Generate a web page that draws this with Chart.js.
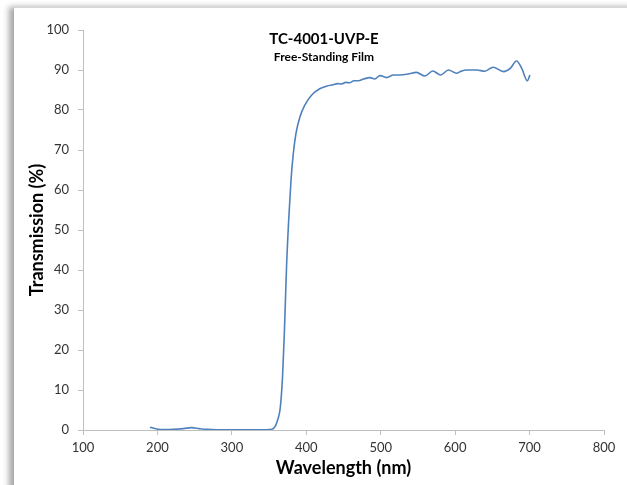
<!DOCTYPE html>
<html>
<head>
<meta charset="utf-8">
<title>TC-4001-UVP-E</title>
<script src="https://cdn.jsdelivr.net/npm/chart.js@4/dist/chart.umd.min.js"></script>
<style>
    html, body { margin: 0; padding: 0; background: #fff; overflow: hidden; }
    #marco {
        position: absolute; left: 14px; top: 7px; width: 700px; height: 600px;
        background: #fff; border-top: 1px solid #d6d6d6;
        box-shadow: -5px 0 6px rgba(0, 0, 0, 0.35);
    }
    #contenedor { position: absolute; left: 0; top: 0; width: 627px; height: 485px; }
</style>
</head>
<body>
<div id="marco"></div>
<div id="contenedor"><canvas id="grafico" width="627" height="485"></canvas></div>
<script>
// --- DATOS ---
const longitudOnda = [190, 199, 210, 221, 235, 246, 256, 266, 280, 300, 320, 340, 351, 356, 359, 362, 365, 368,
    370.5, 373.5, 376.5, 379.5, 382.5, 386, 391.5, 398, 407, 418, 428, 436, 442, 447, 453, 458, 464, 470, 477, 485.5,
    492, 499, 508, 517, 526, 537, 548, 559.5, 570, 580.5, 591, 602, 608, 615.5, 629, 640, 651, 665, 674,
    682.5, 689.5, 697, 700.5];
const transmision = [0.7, 0.25, 0.1, 0.15, 0.35, 0.6, 0.35, 0.15, 0.05, 0.05, 0.05, 0.05, 0.1, 0.4, 1.2, 2.8, 5.5, 13,
    24, 41, 53, 62.5, 69, 74, 78.3, 81.2, 83.7, 85.3, 86, 86.3, 86.6, 86.5, 86.9, 86.8, 87.3, 87.3, 87.75, 88.1,
    87.75, 88.6, 88.1, 88.75, 88.75, 89, 89.4, 88.5, 89.75, 88.75, 90, 89.2, 89.7, 90, 90, 89.7, 90.7, 89.6, 90.4,
    92.25, 90.4, 87.3, 88.75];
const ticksX = [100, 200, 300, 400, 500, 600, 700, 800];
const ticksY = [0, 10, 20, 30, 40, 50, 60, 70, 80, 90, 100];

const titulo = 'TC-4001-UVP-E';
const subtitulo = 'Free-Standing Film';

const colorEje = '#bfbfbf';
const colorTexto = '#333333';
const fuente = 'Lato, "Open Sans", sans-serif';

// --- TITULO DENTRO DEL AREA DEL GRAFICO ---
const tituloInterno = {
    id: 'tituloInterno',
    afterDraw(chart) {
        const ctx = chart.ctx;
        const area = chart.chartArea;
        const cx = area.left + 241;
        ctx.save();
        ctx.fillStyle = '#000';
        ctx.textAlign = 'center';
        ctx.textBaseline = 'middle';
        ctx.font = 'bold 15px ' + fuente;
        ctx.fillText(titulo, cx, 39);
        ctx.font = 'bold 12px ' + fuente;
        ctx.fillText(subtitulo, cx, 57);
        ctx.restore();
    }
};

const puntos = longitudOnda.map((x, i) => ({ x: x, y: transmision[i] }));

new Chart(document.getElementById('grafico'), {
    type: 'line',
    data: {
        datasets: [{
            data: puntos,
            borderColor: '#4f81bd',
            borderWidth: 1.6,
            pointRadius: 0,
            fill: false,
            cubicInterpolationMode: 'monotone'
        }]
    },
    options: {
        responsive: false,
        animation: false,
        layout: { padding: { top: 30, right: 23, left: 0, bottom: 0 } },
        plugins: { legend: { display: false }, tooltip: { enabled: false } },
        scales: {
            x: {
                type: 'linear',
                min: 100, max: 800,
                afterBuildTicks: (scale) => { scale.ticks = ticksX.map(v => ({ value: v })); },
                afterFit: (scale) => { scale.height = 55; },
                border: { color: colorEje },
                grid: { drawOnChartArea: false, drawTicks: true, tickLength: 5, color: colorEje },
                ticks: { color: colorTexto, font: { family: fuente, size: 13 }, padding: 5, maxRotation: 0 },
                title: { display: true, text: 'Wavelength (nm)', color: '#000',
                    font: { family: fuente, size: 18, weight: 'bold' }, padding: { top: 0, bottom: 6 } }
            },
            y: {
                min: 0, max: 100,
                afterBuildTicks: (scale) => { scale.ticks = ticksY.map(v => ({ value: v })); },
                afterFit: (scale) => { scale.width = 83; },
                border: { color: colorEje },
                grid: { drawOnChartArea: false, drawTicks: true, tickLength: 5, color: colorEje },
                ticks: { color: colorTexto, font: { family: fuente, size: 13 }, padding: 9 },
                title: { display: true, text: 'Transmission (%)', color: '#000',
                    font: { family: fuente, size: 18, weight: 'bold' }, padding: { top: 26, bottom: 0 } }
            }
        }
    },
    plugins: [tituloInterno]
});
</script>
</body>
</html>
